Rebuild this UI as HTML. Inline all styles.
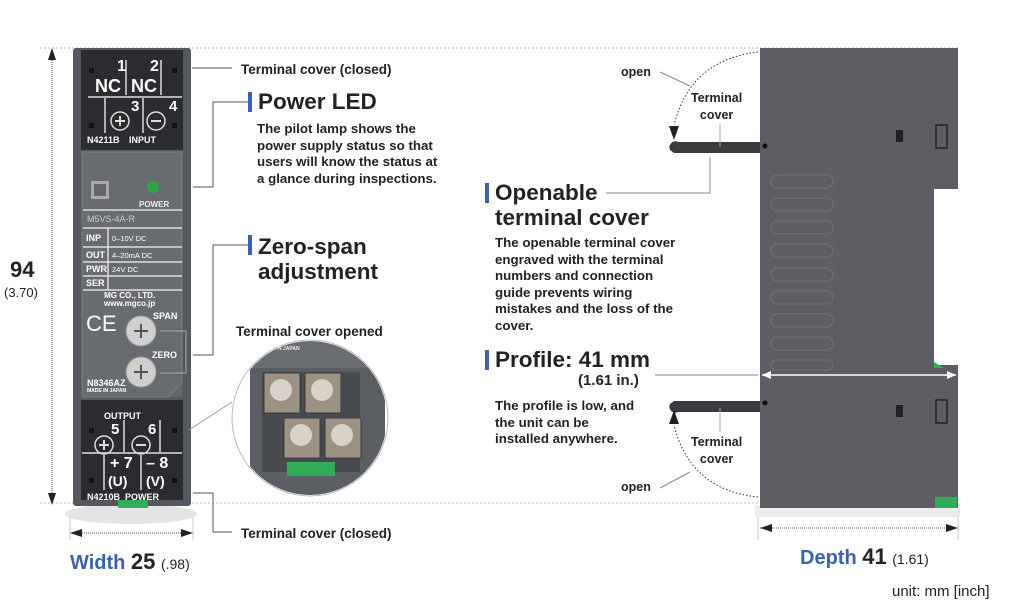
<!DOCTYPE html>
<html><head><meta charset="utf-8"><style>
*{margin:0;padding:0;box-sizing:border-box}
body{width:1024px;height:604px;background:#fff;position:relative;overflow:hidden;font-family:"Liberation Sans",Arial,sans-serif;color:#222}
.a{position:absolute}
.t{position:absolute;font-weight:bold;white-space:nowrap}
.bar{position:absolute;width:4px;background:#3b62b0}
.h{font-size:22.5px;font-weight:bold;line-height:25px}
.p{font-size:13.3px;font-weight:bold;line-height:16.5px;color:#222}
.w{color:#fff;font-weight:bold;position:absolute;white-space:nowrap}
</style></head><body>
<svg class="a" style="left:0;top:0" width="1024" height="604">
 <line x1="40" y1="48" x2="960" y2="48" stroke="#bbb" stroke-dasharray="2 2"/>
 <line x1="40" y1="503" x2="960" y2="503" stroke="#bbb" stroke-dasharray="2 2"/>
 <line x1="52" y1="50" x2="52" y2="503" stroke="#555" stroke-dasharray="1 1"/>
 <path d="M52 48 l-4 12 h8z M52 505 l-4 -12 h8z" fill="#222"/>
 <line x1="70" y1="533" x2="193" y2="533" stroke="#555" stroke-dasharray="1 1"/>
 <path d="M70 533 l12 -4 v8z M193 533 l-12 -4 v8z" fill="#222"/>
 <line x1="70" y1="510" x2="70" y2="540" stroke="#ccc"/><line x1="193" y1="510" x2="193" y2="540" stroke="#ccc"/>
 <line x1="760" y1="528" x2="958" y2="528" stroke="#555" stroke-dasharray="1 1"/>
 <path d="M760 528 l12 -4 v8z M958 528 l-12 -4 v8z" fill="#222"/>
 <line x1="758" y1="510" x2="758" y2="540" stroke="#ccc"/><line x1="958" y1="510" x2="958" y2="540" stroke="#ccc"/>
 <ellipse cx="131" cy="514" rx="66" ry="10" fill="#e4e4e4"/>
 <rect x="755" y="505" width="205" height="12" fill="#ececec"/>

 <rect x="73" y="48" width="118" height="458" rx="3" fill="#55585e"/>
 <rect x="82" y="152" width="100" height="245" fill="#63666b"/>
 <path d="M82 152 h100 v230 l-14 15 h-86z" fill="#686b70" stroke="#7a7d82"/>
 <rect x="81" y="50" width="102" height="100" fill="#2b2c30"/>
 <rect x="81" y="400" width="102" height="100" fill="#2b2c30"/>
 <rect x="118" y="500" width="30" height="8" fill="#2fae55"/>
 <g stroke="#ddd" stroke-width="1.5" fill="none">
  <line x1="126" y1="60" x2="126" y2="95"/><line x1="161" y1="60" x2="161" y2="95"/>
  <line x1="88" y1="97" x2="182" y2="97"/>
  <line x1="105" y1="98" x2="105" y2="133"/><line x1="143" y1="98" x2="143" y2="133"/>
  <line x1="82" y1="453" x2="182" y2="453"/>
  <line x1="124" y1="420" x2="124" y2="452"/><line x1="160" y1="420" x2="160" y2="452"/>
  <line x1="104" y1="455" x2="104" y2="490"/><line x1="141" y1="455" x2="141" y2="490"/>
  <circle cx="120" cy="121" r="9"/><circle cx="156" cy="121" r="9"/>
  <circle cx="104" cy="445" r="9"/><circle cx="141" cy="445" r="9"/>
  <line x1="83" y1="210" x2="182" y2="210"/><line x1="83" y1="228" x2="182" y2="228"/>
  <line x1="83" y1="247" x2="182" y2="247"/><line x1="83" y1="262" x2="182" y2="262"/>
  <line x1="83" y1="276" x2="182" y2="276"/><line x1="83" y1="290" x2="182" y2="290"/>
  <line x1="108" y1="228" x2="108" y2="290"/>
 </g>
 <path d="M115 121h10M120 116v10M151 121h10M99 445h10M104 440v10M136 445h10" stroke="#ddd" stroke-width="2"/>
 <g fill="#111"><rect x="89" y="68" width="5" height="5"/><rect x="172" y="68" width="5" height="5"/><rect x="89" y="123" width="5" height="5"/><rect x="172" y="123" width="5" height="5"/><rect x="89" y="428" width="5" height="5"/><rect x="172" y="428" width="5" height="5"/><rect x="89" y="478" width="5" height="5"/><rect x="172" y="478" width="5" height="5"/></g>
 <circle cx="153" cy="187" r="6" fill="#2fa548"/>
 <rect x="91" y="181" width="18" height="18" fill="#aaa"/><rect x="94" y="184" width="12" height="12" fill="#666"/>
 <circle cx="141" cy="331" r="15" fill="#cfcfcf" stroke="#999"/><circle cx="141" cy="372" r="15" fill="#cfcfcf" stroke="#999"/>
 <path d="M134 331h14M141 324v14M134 372h14M141 365v14" stroke="#555" stroke-width="2"/>
 <g stroke="#555" fill="none" stroke-width="1">
  <line x1="192" y1="68" x2="232" y2="68"/>
  <polyline points="193,187 213,187 213,102 248,102"/>
  <polyline points="193,355 213,355 213,245 248,245"/>
  <polyline points="160,331 186,331 186,373 160,373" stroke="#aaa"/>
  <polyline points="193,493 213,493 213,532 232,532"/>
 </g>
 <circle cx="310" cy="418" r="78" fill="#fff" stroke="#bbb"/>
 <clipPath id="c"><circle cx="310" cy="418" r="77"/></clipPath>
 <g clip-path="url(#c)">
  <rect x="232" y="340" width="160" height="160" fill="#fff"/>
  <rect x="232" y="340" width="160" height="30" fill="#6a6d72"/>
  <rect x="250" y="368" width="135" height="130" fill="#5b5e63"/>
  <rect x="262" y="372" width="98" height="100" fill="#474a4f"/>
  <g fill="#9c9183" stroke="#3a3a3a"><rect x="264" y="373" width="36" height="40"/><rect x="305" y="373" width="36" height="40"/><rect x="284" y="418" width="36" height="40"/><rect x="325" y="418" width="36" height="40"/></g>
  <g fill="#d8d2c8"><circle cx="281" cy="390" r="11"/><circle cx="322" cy="390" r="11"/><circle cx="301" cy="435" r="11"/><circle cx="342" cy="435" r="11"/></g>
  <rect x="287" y="462" width="48" height="14" fill="#2fae55"/>
 </g>
 <polyline points="189,430 232,402" stroke="#999" fill="none"/>

 <path d="M760 48 h198 v141 h-24 v176 h24 v143 h-198z" fill="#5d5e63"/>
 <path d="M934 362 l10 6 h-10z" fill="#2fae55"/>
 <rect x="935" y="497" width="22" height="11" fill="#2fae55"/>
 <g fill="none" stroke="#6c6e73" stroke-width="1.2">
  <rect x="771" y="175" width="62" height="13" rx="6"/><rect x="771" y="198" width="62" height="13" rx="6"/><rect x="771" y="221" width="62" height="13" rx="6"/><rect x="771" y="244" width="62" height="13" rx="6"/><rect x="771" y="268" width="62" height="13" rx="6"/><rect x="771" y="291" width="62" height="13" rx="6"/><rect x="771" y="314" width="62" height="13" rx="6"/><rect x="771" y="337" width="62" height="13" rx="6"/><rect x="771" y="360" width="62" height="10" rx="5"/>
 </g>
 <g fill="none" stroke="#222" stroke-width="1.5"><rect x="936" y="125" width="11" height="23"/><rect x="936" y="400" width="11" height="23"/></g>
 <rect x="896" y="130" width="7" height="12" fill="#222"/><rect x="896" y="405" width="7" height="12" fill="#222"/>
 <circle cx="765" cy="146" r="2.5" fill="#111"/><circle cx="765" cy="403" r="2.5" fill="#111"/>
 <path d="M760 142 h-82 a6 6 0 0 0 -8 8 l4 3 h86z" fill="#3a3b3f"/>
 <path d="M760 401 h-86 l-4 3 a6 6 0 0 0 8 8 h82z" fill="#3a3b3f"/>
 <line x1="720" y1="124" x2="720" y2="147" stroke="#aaa"/><line x1="720" y1="408" x2="720" y2="432" stroke="#aaa"/>
 <line x1="762" y1="375" x2="956" y2="375" stroke="#fff" stroke-width="1.5"/>
 <path d="M762 375 l9 -4 v8z M956 375 l-9 -4 v8z" fill="#fff"/>
 <line x1="655" y1="375" x2="758" y2="375" stroke="#888"/>
 <path d="M758 52 Q690 60 674 125" stroke="#333" stroke-dasharray="1.5 2" fill="none"/>
 <path d="M669 126 l5 14 l5 -14z" fill="#222"/>
 <path d="M758 497 Q690 490 674 425" stroke="#333" stroke-dasharray="1.5 2" fill="none"/>
 <path d="M669 424 l5 -14 l5 14z" fill="#222"/>
 <line x1="660" y1="72" x2="690" y2="86" stroke="#888"/><line x1="660" y1="488" x2="690" y2="472" stroke="#888"/>
 <polyline points="606,193 710,193 710,157" stroke="#888" fill="none"/>
</svg>

<div class="w" style="left:117px;top:58px;font-size:16px">1</div>
<div class="w" style="left:150px;top:58px;font-size:16px">2</div>
<div class="w" style="left:95px;top:76px;font-size:18px">NC</div>
<div class="w" style="left:131px;top:76px;font-size:18px">NC</div>
<div class="w" style="left:131px;top:98px;font-size:15px">3</div>
<div class="w" style="left:169px;top:98px;font-size:15px">4</div>
<div class="w" style="left:87px;top:135px;font-size:9px">N4211B</div>
<div class="w" style="left:129px;top:135px;font-size:9px">INPUT</div>
<div class="w" style="left:139px;top:200px;font-size:8px;color:#eee">POWER</div>
<div class="w" style="left:87px;top:214px;font-size:9px;color:#ccc;font-weight:normal">M5VS-4A-R</div>
<div class="w" style="left:86px;top:233px;font-size:9px">INP</div><div class="w" style="left:112px;top:234px;font-size:7.5px;font-weight:normal">0–10V DC</div>
<div class="w" style="left:86px;top:250px;font-size:9px">OUT</div><div class="w" style="left:112px;top:251px;font-size:7.5px;font-weight:normal">4–20mA DC</div>
<div class="w" style="left:86px;top:264px;font-size:9px">PWR</div><div class="w" style="left:112px;top:265px;font-size:7.5px;font-weight:normal">24V DC</div>
<div class="w" style="left:86px;top:278px;font-size:9px">SER</div>
<div class="w" style="left:104px;top:292px;font-size:8px;line-height:8px;text-align:center">MG CO., LTD.<br>www.mgco.jp</div>
<div class="w" style="left:86px;top:311px;font-size:22px;font-weight:normal">CE</div>
<div class="w" style="left:153px;top:311px;font-size:9px">SPAN</div>
<div class="w" style="left:152px;top:350px;font-size:9px">ZERO</div>
<div class="w" style="left:87px;top:378px;font-size:9px">N8346AZ</div>
<div class="w" style="left:87px;top:388px;font-size:5px">MADE IN JAPAN</div>
<div class="w" style="left:104px;top:411px;font-size:9px">OUTPUT</div>
<div class="w" style="left:111px;top:421px;font-size:15px">5</div>
<div class="w" style="left:148px;top:421px;font-size:15px">6</div>
<div class="w" style="left:110px;top:455px;font-size:16px">+ 7</div>
<div class="w" style="left:146px;top:455px;font-size:16px">– 8</div>
<div class="w" style="left:108px;top:473px;font-size:14px">(U)</div>
<div class="w" style="left:146px;top:473px;font-size:14px">(V)</div>
<div class="w" style="left:87px;top:492px;font-size:9px">N4210B</div>
<div class="w" style="left:125px;top:492px;font-size:9px">POWER</div>
<div class="w" style="left:278px;top:346px;font-size:5px;color:#eee">N JAPAN</div>

<div class="t" style="left:10px;top:257px;font-size:22px">94</div>
<div class="t" style="left:4px;top:285px;font-size:13px;font-weight:normal">(3.70)</div>
<div class="t" style="left:241px;top:62px;font-size:13.5px">Terminal cover (closed)</div>
<div class="t" style="left:241px;top:526px;font-size:13.5px">Terminal cover (closed)</div>
<div class="bar" style="left:248px;top:92px;height:20px"></div>
<div class="t h" style="left:258px;top:89px">Power LED</div>
<div class="t p" style="left:257px;top:121px">The pilot lamp shows the<br>power supply status so that<br>users will know the status at<br>a glance during inspections.</div>
<div class="bar" style="left:248px;top:235px;height:20px"></div>
<div class="t h" style="left:258px;top:234px">Zero-span<br>adjustment</div>
<div class="t" style="left:236px;top:324px;font-size:13.5px">Terminal cover opened</div>
<div class="t" style="left:70px;top:549px;font-size:20px;color:#3b62b0">Width <span style="color:#222;font-size:22px">25</span> <span style="color:#222;font-size:14px;font-weight:normal">(.98)</span></div>

<div class="bar" style="left:485px;top:183px;height:20px"></div>
<div class="t h" style="left:495px;top:180px">Openable<br>terminal cover</div>
<div class="t p" style="left:495px;top:235px">The openable terminal cover<br>engraved with the terminal<br>numbers and connection<br>guide prevents wiring<br>mistakes and the loss of the<br>cover.</div>
<div class="bar" style="left:485px;top:350px;height:20px"></div>
<div class="t h" style="left:495px;top:347px">Profile: 41 mm</div>
<div class="t" style="left:578px;top:372px;font-size:15px">(1.61 in.)</div>
<div class="t p" style="left:495px;top:398px">The profile is low, and<br>the unit can be<br>installed anywhere.</div>

<div class="t" style="left:621px;top:65px;font-size:12.5px">open</div>
<div class="t" style="left:621px;top:480px;font-size:12.5px">open</div>
<div class="t" style="left:691px;top:90px;font-size:12.5px;text-align:center;line-height:17px">Terminal<br>cover</div>
<div class="t" style="left:691px;top:434px;font-size:12.5px;text-align:center;line-height:17px">Terminal<br>cover</div>
<div class="t" style="left:800px;top:544px;font-size:20px;color:#3b62b0">Depth <span style="color:#222;font-size:22px">41</span> <span style="color:#222;font-size:14px;font-weight:normal">(1.61)</span></div>
<div class="t" style="left:892px;top:583px;font-size:15px;font-weight:normal">unit: mm [inch]</div>
</body></html>
